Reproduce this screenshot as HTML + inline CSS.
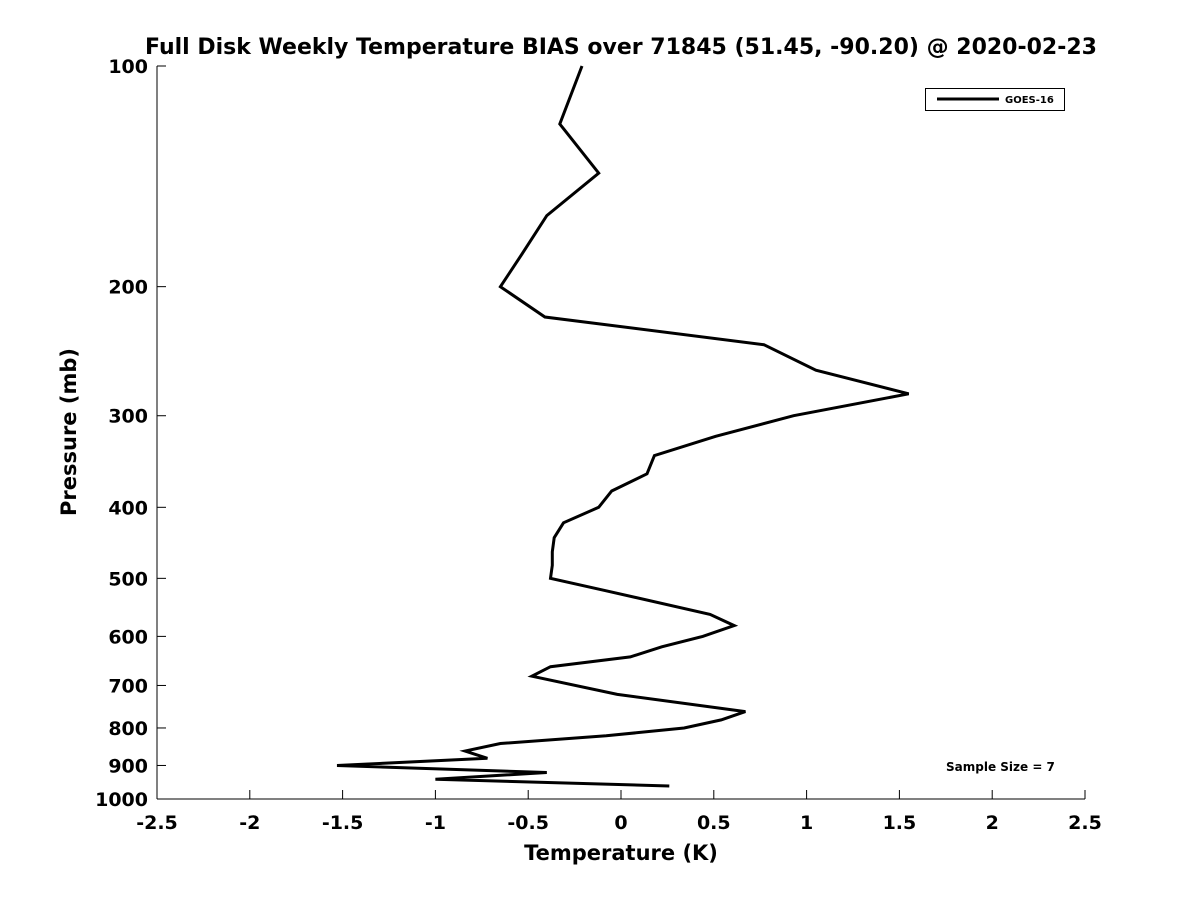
<!DOCTYPE html>
<html><head><meta charset="utf-8"><style>
body{margin:0;background:#fff}
svg{display:block;font-family:"DejaVu Sans","Liberation Sans",sans-serif;font-weight:bold}
</style></head><body>
<svg id="chart" width="1200" height="900" viewBox="0 0 1200 900">
<rect width="1200" height="900" fill="#fff"/>
<text x="621" y="54" text-anchor="middle" font-size="22">Full Disk Weekly Temperature BIAS over 71845 (51.45, -90.20) @ 2020-02-23</text>
<g id="axes"></g>
<path id="series" fill="none" stroke="#000" stroke-width="3" stroke-linejoin="miter"/>
<g>
<rect x="925.5" y="88.5" width="139" height="22" fill="#fff" stroke="#000" stroke-width="1"/>
<line x1="937" y1="99" x2="999" y2="99" stroke="#000" stroke-width="3"/>
<text x="1005" y="103" font-size="10">GOES-16</text>
</g>
<text x="946" y="771" font-size="12">Sample Size = 7</text>
<text x="621" y="860" text-anchor="middle" font-size="21">Temperature (K)</text>
<text transform="translate(76,432) rotate(-90)" text-anchor="middle" font-size="21">Pressure (mb)</text>
</svg>
<script>
const temps=[-0.21,-0.33,-0.12,-0.40,-0.53,-0.65,-0.41,0.77,1.05,1.55,0.93,0.51,0.18,0.14,-0.05,-0.12,-0.31,-0.36,-0.37,-0.37,-0.38,-0.08,0.48,0.61,0.44,0.22,0.05,-0.38,-0.48,-0.02,0.67,0.54,0.34,-0.08,-0.65,-0.84,-0.72,-1.53,-0.40,-1.00,0.26];
const pressures=[100,120,140,160,180,200,220,240,260,280,300,320,340,360,380,400,420,440,460,480,500,520,560,580,600,620,640,660,680,720,760,780,800,820,840,860,880,900,920,940,960];
const xTicks=[-2.5,-2,-1.5,-1,-0.5,0,0.5,1,1.5,2,2.5];
const yTicks=[100,200,300,400,500,600,700,800,900,1000];
const X0=157,X1=1085,Y0=66,Y1=799;
function xs(v){return X0+(v+2.5)/5*(X1-X0);}
function ys(p){return Y0+Math.log10(p/100)*(Y1-Y0);}
const NS="http://www.w3.org/2000/svg";
const ax=document.getElementById('axes');
function mk(t,a){const e=document.createElementNS(NS,t);for(const k in a)e.setAttribute(k,a[k]);ax.appendChild(e);return e;}
const yl=mk('line',{x1:X0,y1:Y0,x2:X0,y2:Y1,stroke:'#000','stroke-width':1});


const xl=mk('line',{x1:X0,y1:Y1,x2:X1,y2:Y1,stroke:'#000','stroke-width':1});


xTicks.forEach(v=>{
 const x=xs(v);
 mk('line',{x1:x,y1:Y1,x2:x,y2:Y1-9,stroke:'#000'});
 const t=mk('text',{x:x,y:829,'text-anchor':'middle','font-size':19});
 
 
 t.textContent=String(v);
});
yTicks.forEach(p=>{
 const y=ys(p);
 mk('line',{x1:X0,y1:y,x2:X0+9,y2:y,stroke:'#000'});
 const t=mk('text',{x:148,y:y+7,'text-anchor':'end','font-size':19});
 
 
 t.textContent=String(p);
});
document.getElementById('series').setAttribute('d',temps.map((v,i)=>(i?'L':'M')+xs(v).toFixed(1)+','+ys(pressures[i]).toFixed(1)).join(''));
</script>
</body></html>
